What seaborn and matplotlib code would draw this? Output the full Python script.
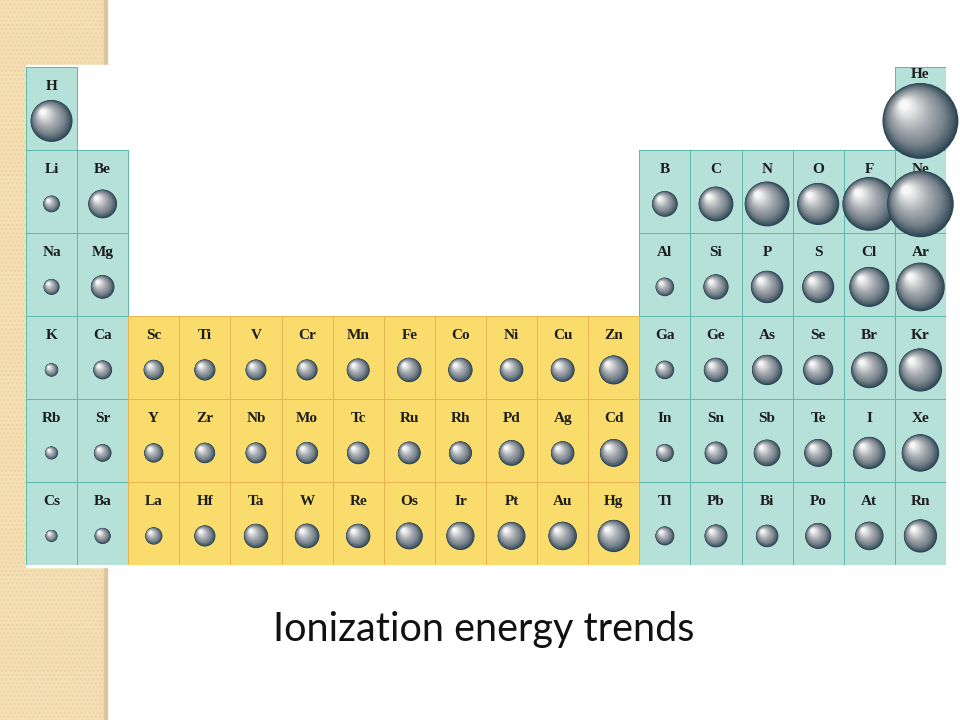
import numpy as np
import pandas as pd
import seaborn as sns
import matplotlib.pyplot as plt
from matplotlib.colors import ListedColormap, LinearSegmentedColormap, to_rgba
from matplotlib.patches import Rectangle

# element data: symbol, group (column), period (row), first ionization energy (kJ/mol)
symbols = [
    "H", "He",
    "Li", "Be", "B", "C", "N", "O", "F", "Ne",
    "Na", "Mg", "Al", "Si", "P", "S", "Cl", "Ar",
    "K", "Ca", "Sc", "Ti", "V", "Cr", "Mn", "Fe", "Co", "Ni", "Cu", "Zn",
    "Ga", "Ge", "As", "Se", "Br", "Kr",
    "Rb", "Sr", "Y", "Zr", "Nb", "Mo", "Tc", "Ru", "Rh", "Pd", "Ag", "Cd",
    "In", "Sn", "Sb", "Te", "I", "Xe",
    "Cs", "Ba", "La", "Hf", "Ta", "W", "Re", "Os", "Ir", "Pt", "Au", "Hg",
    "Tl", "Pb", "Bi", "Po", "At", "Rn",
]
groups = (
    [1, 18]
    + [1, 2, 13, 14, 15, 16, 17, 18]
    + [1, 2, 13, 14, 15, 16, 17, 18]
    + list(range(1, 19)) * 3
)
periods = [1] * 2 + [2] * 8 + [3] * 8 + [4] * 18 + [5] * 18 + [6] * 18
ionization = [
    1312, 2372,
    520, 899, 801, 1086, 1402, 1314, 1681, 2081,
    496, 738, 578, 787, 1012, 1000, 1251, 1521,
    419, 590, 633, 659, 651, 653, 717, 763, 760, 737, 745, 906,
    579, 762, 947, 941, 1140, 1351,
    403, 550, 600, 640, 652, 684, 702, 710, 720, 804, 731, 868,
    558, 709, 834, 869, 1008, 1170,
    376, 503, 538, 659, 761, 770, 760, 840, 880, 870, 890, 1007,
    589, 716, 703, 812, 890, 1037,
]
title = "Ionization energy trends"

px_per_kj = 0.032      # sphere diameter in pixels per kJ/mol
n_layers = 45          # shading layers per sphere
label_pos = {"He": 0.09}   # He symbol sits above its large sphere

teal, teal_edge = "#b5e1d9", "#5fb9ab"
yellow, yellow_edge = "#f9dc6c", "#eab352"

fig = plt.figure(figsize=(9.6, 7.2), dpi=100)
W, H = 960, 720

# slide decoration: tan strip on the left, white panel behind the table
fig.patches.append(Rectangle((0, 0), 107 / W, 1, transform=fig.transFigure,
                             facecolor="#f3dfb3", edgecolor="#ecd4a2",
                             hatch="....", linewidth=0, zorder=-3))
fig.patches.append(Rectangle((104 / W, 0), 3 / W, 1, transform=fig.transFigure,
                             color="#dcc79c", zorder=-2))
fig.patches.append(Rectangle((26 / W, (H - 567) / H), (W - 26) / W, (567 - 65) / H,
                             transform=fig.transFigure, color="white", zorder=-1))

rect = [26 / W, (H - 565) / H, 920 / W, 498 / H]
ax = fig.add_axes(rect)
ax.set_zorder(1)
ax.patch.set_alpha(0)

# cell grid built from the element positions
block = np.full((6, 18), np.nan)
for g, p in zip(groups, periods):
    block[p - 1, g - 1] = 1.0 if 3 <= g <= 12 else 0.0

for code, fill, edge in [(0, teal, teal_edge), (1, yellow, yellow_edge)]:
    cells = np.where(block == code, 1.0, np.nan)
    sns.heatmap(cells, ax=ax, cmap=ListedColormap([fill]), vmin=0, vmax=1,
                cbar=False, linewidths=0.7, linecolor=edge,
                xticklabels=False, yticklabels=False)
    # only outline the cells that exist
    mesh = ax.collections[-1]
    mesh.set_edgecolor([to_rgba(edge) if v == 1 else (0, 0, 0, 0)
                        for v in np.nan_to_num(cells).ravel()])

# element symbols
for sym, g, p in zip(symbols, groups, periods):
    ax.text(g - 0.5, p - 1 + label_pos.get(sym, 0.23), sym, ha="center",
            va="center", fontfamily="Liberation Serif", fontweight="bold",
            fontsize=11, color="#1d1d1d", zorder=2)

# shaded spheres: stacked discs, shrinking towards an upper-left highlight
cell_w = rect[2] * W / 18
cell_h = rect[3] * H / 6
rows = []
for sym, g, p, ie in zip(symbols, groups, periods, ionization):
    d_px = px_per_kj * ie
    for k in range(n_layers):
        t = k / (n_layers - 1)
        diam = d_px * (1 - 0.88 * t)
        off = 0.42 * t * d_px / 2
        rows.append({
            "x": g - 0.5 - off / cell_w,
            "y": p - 1 + 0.65 - off / cell_h,
            "area": (diam * 72 / 100) ** 2,
            "shade": t,
        })
spheres = pd.DataFrame(rows)

sphere_cmap = LinearSegmentedColormap.from_list(
    "sphere", [(0, "#2b4353"), (0.1, "#4a5e6b"), (0.28, "#78838c"),
               (0.55, "#a4a9ae"), (0.8, "#d2d4d6"), (1, "#f7f7f7")])
amin, amax = spheres["area"].min(), spheres["area"].max()
sns.scatterplot(data=spheres, x="x", y="y", hue="shade", palette=sphere_cmap,
                hue_norm=(0, 1), size="area", sizes=(amin, amax),
                size_norm=(amin, amax), linewidth=0, legend=False, ax=ax,
                clip_on=False, zorder=3)

ax.set_xlim(0, 18)
ax.set_ylim(6, 0)
ax.set_xlabel("")
ax.set_ylabel("")
ax.set_xticks([])
ax.set_yticks([])

fig.text(484 / W, (H - 641) / H, title, ha="center", va="baseline",
         fontfamily="Lato", fontsize=28.5, color="#111111")

fig.savefig("out.png", dpi=100)
